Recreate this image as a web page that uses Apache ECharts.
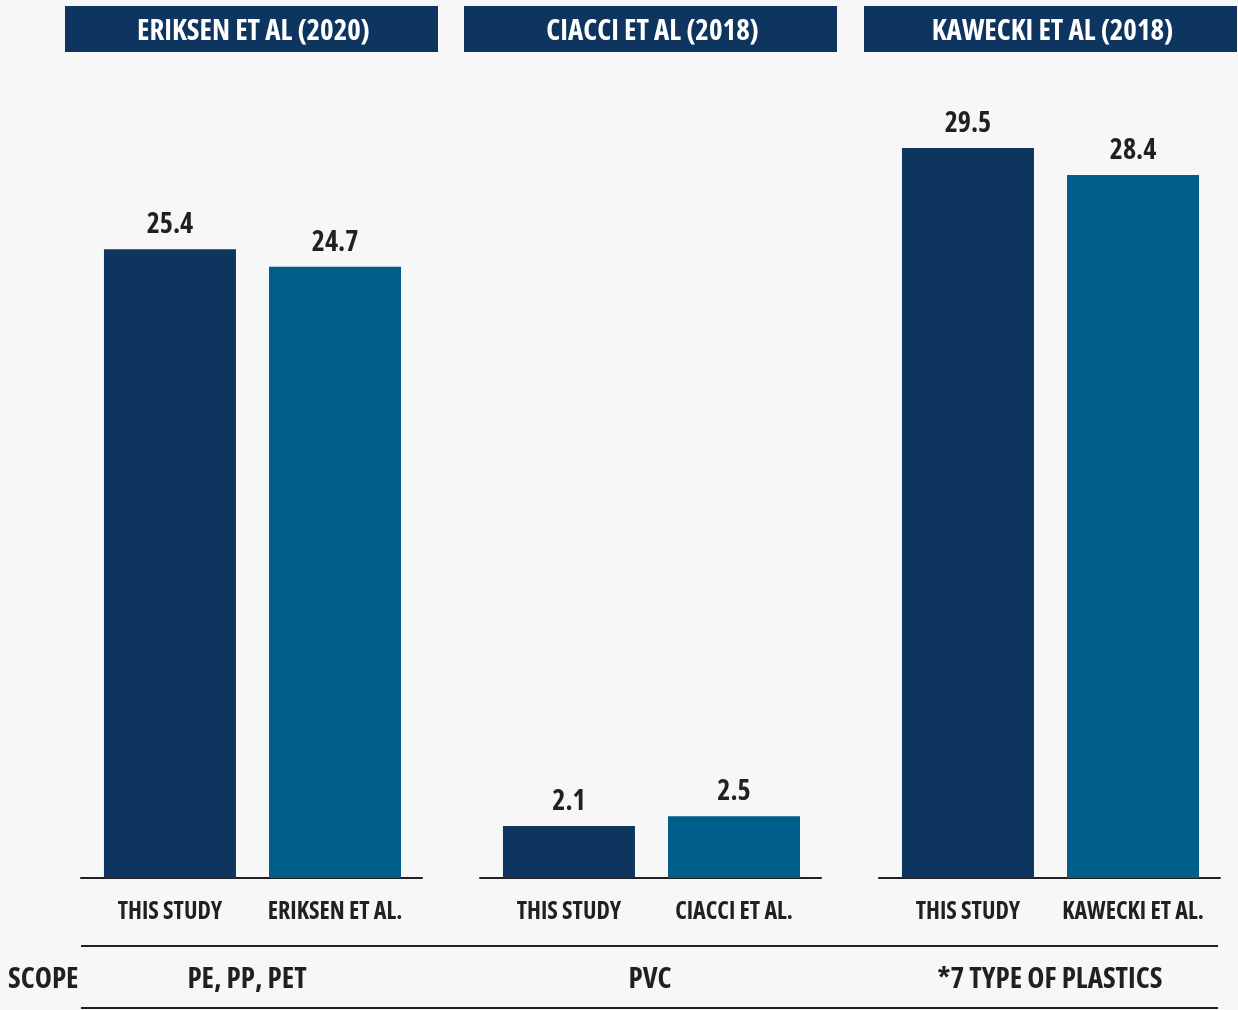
<!DOCTYPE html>
<html>
<head>
<meta charset="utf-8">
<script src="https://cdn.jsdelivr.net/npm/echarts@6/dist/echarts.min.js"></script>
<style>
  html, body { margin: 0; padding: 0; background: #f7f7f7; }
  #chart { width: 1238px; height: 1010px; }
</style>
</head>
<body>
<div id="chart"></div>
<script>
// Comparison of estimates: this study vs. three published studies
const panelTitles = ['ERIKSEN ET AL (2020)', 'CIACCI ET AL (2018)', 'KAWECKI ET AL (2018)'];
const barLabels = [
  ['THIS STUDY', 'ERIKSEN ET AL.'],
  ['THIS STUDY', 'CIACCI ET AL.'],
  ['THIS STUDY', 'KAWECKI ET AL.']
];
const thisStudy = [25.4, 2.1, 29.5];
const published = [24.7, 2.5, 28.4];
const scopes = ['PE, PP, PET', 'PVC', '*7 TYPE OF PLASTICS'];

const FAMILY = '"Open Sans"';
const fontOf = size => 'condensed bold ' + size + 'px ' + FAMILY;
const INK = '#231f20';
const DARK = '#0d355f';
const TEAL = '#005e8a';

// panel layout
const panelLeft = [81, 480, 879];
const panelWidth = 341;
const headerLeft = [65, 464, 864];
const headerWidth = 373;
const scopeCenter = [247, 650, 1050];

const grids = [], xAxes = [], yAxes = [], series = [];
panelLeft.forEach((left, i) => {
  grids.push({ left: left, width: panelWidth, top: 135.5, height: 742.5 });
  xAxes.push({
    gridIndex: i, type: 'value', min: -0.539, max: 1.527,
    axisLine: { show: true, lineStyle: { color: INK, width: 2 } },
    axisTick: { show: false },
    splitLine: { show: false },
    axisLabel: {
      customValues: [0, 1],
      margin: 22,
      formatter: v => barLabels[i][Math.round(v)],
      fontFamily: FAMILY, fontStyle: 'condensed', fontWeight: 'bold', fontSize: 24, color: INK
    }
  });
  yAxes.push({ gridIndex: i, type: 'value', min: 0, max: 30, show: false });
  series.push({
    type: 'bar', xAxisIndex: i, yAxisIndex: i, barWidth: 132,
    data: [
      { value: [0, thisStudy[i]], itemStyle: { color: DARK } },
      { value: [1, published[i]], itemStyle: { color: TEAL } }
    ],
    label: {
      show: true, position: 'top', distance: 10,
      formatter: p => p.value[1].toFixed(1),
      fontFamily: FAMILY, fontStyle: 'condensed', fontWeight: 'bold', fontSize: 28, color: INK
    },
    silent: true
  });
});

const graphic = [];
panelTitles.forEach((t, i) => {
  graphic.push({
    type: 'rect', left: headerLeft[i], top: 6,
    shape: { width: headerWidth, height: 46 },
    style: { fill: DARK }, silent: true
  });
  graphic.push({
    type: 'text', x: headerLeft[i] + headerWidth / 2 + 2, y: 32,
    style: {
      text: t, fill: '#ffffff', align: 'center', verticalAlign: 'middle',
      font: fontOf(29)
    }
  });
  graphic.push({
    type: 'text', x: scopeCenter[i], y: 980,
    style: {
      text: scopes[i], fill: INK, align: 'center', verticalAlign: 'middle',
      font: fontOf(29)
    }
  });
});
[946, 1008].forEach(y => {
  graphic.push({
    type: 'line', shape: { x1: 81, y1: y, x2: 1218, y2: y },
    style: { stroke: INK, lineWidth: 2 }, silent: true
  });
});
graphic.push({
  type: 'text', x: 8, y: 980,
  style: { text: 'SCOPE', fill: INK, align: 'left', verticalAlign: 'middle', font: fontOf(29) }
});

const chart = echarts.init(document.getElementById('chart'), null, { renderer: 'canvas' });
chart.setOption({
  backgroundColor: '#f7f7f7',
  animation: false,
  grid: grids,
  xAxis: xAxes,
  yAxis: yAxes,
  series: series,
  graphic: graphic
});
</script>
</body>
</html>
